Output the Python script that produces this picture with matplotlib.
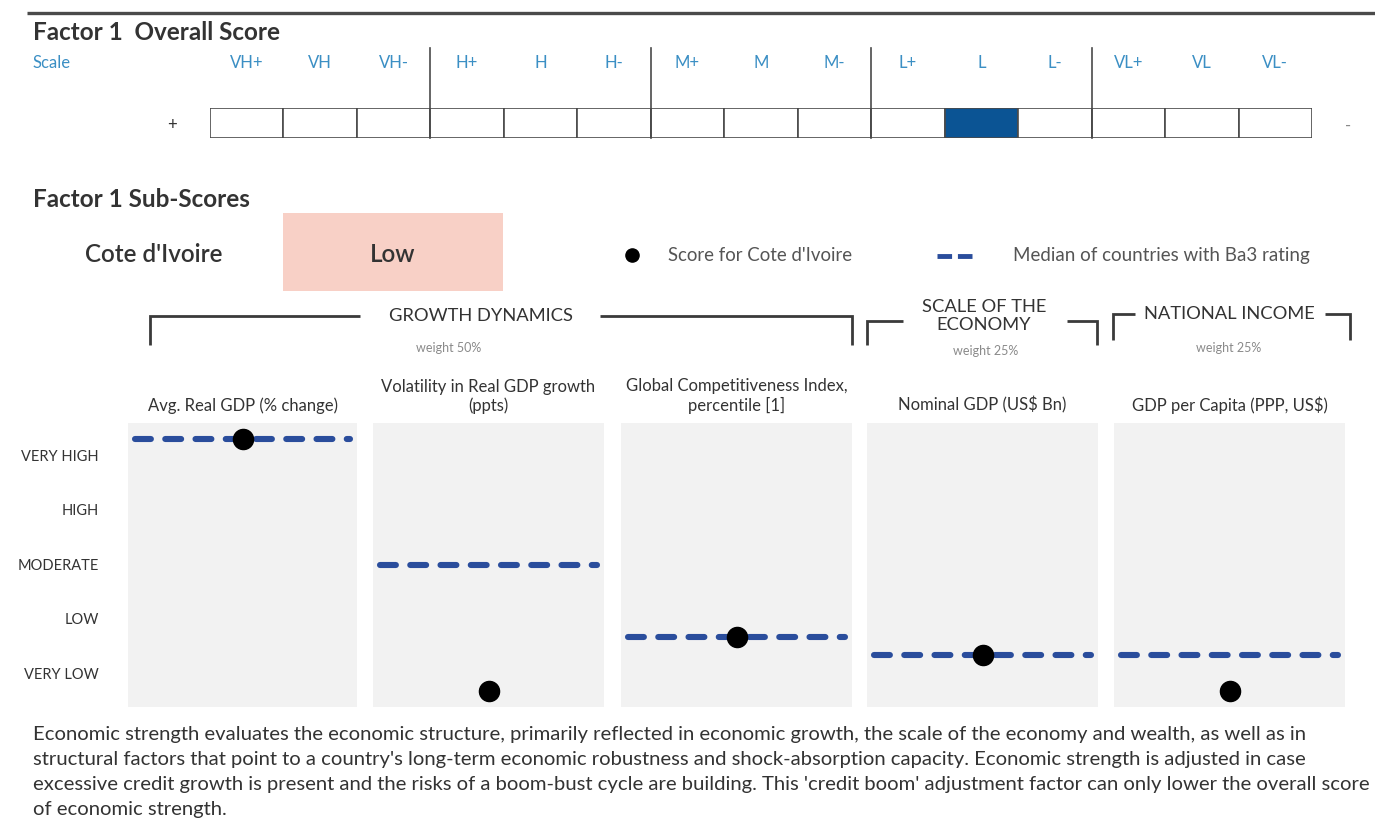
import matplotlib
matplotlib.use("Agg")
import matplotlib.pyplot as plt
from matplotlib.patches import Rectangle

plt.rcParams['font.family'] = ['Lato', 'DejaVu Sans']

# ---- data -------------------------------------------------------------
scale_labels = ["VH+", "VH", "VH-", "H+", "H", "H-", "M+", "M", "M-",
                "L+", "L", "L-", "VL+", "VL", "VL-"]
overall_score = "L"

country = "Cote d'Ivoire"
country_rating = "Low"

level_labels = ["VERY LOW", "LOW", "MODERATE", "HIGH", "VERY HIGH"]
level_values = [1, 2, 3, 4, 5]

indicators = ["Avg. Real GDP (% change)",
              "Volatility in Real GDP growth\n(ppts)",
              "Global Competitiveness Index,\npercentile [1]",
              "Nominal GDP (US\\$ Bn)",
              "GDP per Capita (PPP, US\\$)"]
country_scores = [5.30, 0.67, 1.66, 1.33, 0.67]
ba3_medians = [5.30, 2.98, 1.66, 1.33, 1.33]

groups = ["GROWTH DYNAMICS", "SCALE OF THE\nECONOMY", "NATIONAL INCOME"]
group_weights = ["weight 50%", "weight 25%", "weight 25%"]

body_lines = [
    "Economic strength evaluates the economic structure, primarily reflected in economic growth, the scale of the economy and wealth, as well as in",
    "structural factors that point to a country's long-term economic robustness and shock-absorption capacity. Economic strength is adjusted in case",
    "excessive credit growth is present and the risks of a boom-bust cycle are building. This 'credit boom' adjustment factor can only lower the overall score",
    "of economic strength.",
]

# ---- style ------------------------------------------------------------
W, H = 1375, 838
DARK = "#333333"
GREY = "#8a8a8a"
SCALE_BLUE = "#3b8fc4"
SEL_BLUE = "#0b5494"
MED_BLUE = "#2a4d9c"
PINK = "#f8d0c6"
PANEL_BG = "#f2f2f2"

fig = plt.figure(figsize=(W / 100, H / 100), dpi=100)


def px_axes(x0, y0, x1, y1):
    """Axes placed by pixel box (top-left origin)."""
    return fig.add_axes([x0 / W, 1 - y1 / H, (x1 - x0) / W, (y1 - y0) / H])


# background canvas in pixel units for headings and brackets
bg = fig.add_axes([0, 0, 1, 1])
bg.set_xlim(0, W)
bg.set_ylim(H, 0)
bg.axis("off")

bg.plot([27, W], [13, 13], color="#4a4a4a", lw=2.4, solid_capstyle="butt")
bg.text(33, 33, "Factor 1  Overall Score", fontsize=17.5, fontweight="bold",
        color=DARK, va="center", ha="left")
bg.text(33, 63, "Scale", fontsize=12, color=SCALE_BLUE, va="center")
bg.text(172, 125, "+", fontsize=12, color=DARK, va="center", ha="center")
bg.text(1348, 126, "-", fontsize=12, color=GREY, va="center", ha="center")

# ---- overall score strip ----------------------------------------------
sx = px_axes(210, 108, 1312, 138)
n = len(scale_labels)
sel = scale_labels.index(overall_score)
colors = [SEL_BLUE if i == sel else "white" for i in range(n)]
sx.bar(range(n), [1] * n, width=1, align="edge", color=colors,
       edgecolor="#4a4a4a", linewidth=1.2)
sx.set_xlim(0, n)
sx.set_ylim(0, 1)
sx.axis("off")
for i, lab in enumerate(scale_labels):
    sx.text(i + 0.5, 2.5, lab, fontsize=12, color=SCALE_BLUE,
            ha="center", va="center", clip_on=False)
for b in range(3, n, 3):
    sx.axvline(b, ymin=0, ymax=3.0, color="#4a4a4a", lw=1.2, clip_on=False)

# ---- sub-scores heading and legend --------------------------------------
bg.text(33, 199, "Factor 1 Sub-Scores", fontsize=17.5, fontweight="bold",
        color=DARK, va="center")
bg.text(85, 254, country, fontsize=17.5, color=DARK, va="center",
        fontweight="semibold")
bg.add_patch(Rectangle((283, 213), 220, 78, color=PINK, lw=0))
bg.text(393, 254, country_rating, fontsize=17.5, color=DARK, va="center",
        ha="center", fontweight="semibold")

bg.scatter([632], [255], s=90, color="black", zorder=3)
bg.text(668, 255, "Score for Cote d'Ivoire", fontsize=13.4, color="#555555",
        va="center")
bg.plot([937, 975], [256, 256], color=MED_BLUE, lw=3.5,
        dashes=(3.0, 1.2), solid_capstyle="butt")
bg.text(1013, 255, "Median of countries with Ba3 rating", fontsize=13.5,
        color="#555555", va="center")

# ---- group brackets -------------------------------------------------------
brackets = [
    # left, right, top, bottom, text gap left, text gap right, text x
    (150, 852, 316, 345, 360, 600, 481),
    (867, 1097, 321, 345, 903, 1067, 984),
    (1113, 1350, 314, 340, 1135, 1325, 1229),
]
for (l, r, t, b, gl, gr, tx), g, wgt in zip(brackets, groups, group_weights):
    kw = dict(color="#3a3a3a", lw=2.0, solid_joinstyle="miter",
              solid_capstyle="butt")
    bg.plot([l, l, gl], [b, t, t], **kw)
    bg.plot([gr, r, r], [t, t, b], **kw)
    if "\n" in g:
        bg.text(tx, 316, g, fontsize=13.2, color=DARK, ha="center",
                va="center", linespacing=1.2)
        bg.text(tx + 2, 351, wgt, fontsize=9, color=GREY, ha="center",
                va="center")
    else:
        bg.text(tx, t, g, fontsize=13.2, color=DARK, ha="center",
                va="center")
        bg.text(tx - 32 if tx < 600 else tx, 348, wgt, fontsize=9,
                color=GREY, ha="center", va="center")

# ---- indicator panels -----------------------------------------------------
panel_x = [(128, 357), (373, 604), (621, 852), (867, 1098), (1114, 1345)]
y_lo, y_hi = 0.376, 5.59
for k, ((x0, x1), title, score, med) in enumerate(
        zip(panel_x, indicators, country_scores, ba3_medians)):
    ax = px_axes(x0, 423, x1, 707)
    ax.set_facecolor(PANEL_BG)
    ax.set_xlim(0, 1)
    ax.set_ylim(y_lo, y_hi)
    for sp in ax.spines.values():
        sp.set_visible(False)
    ax.set_xticks([])
    if k == 0:
        ax.set_yticks(level_values)
        ax.set_yticklabels(level_labels, fontsize=10.5, color=DARK)
        ax.tick_params(axis="y", length=0, pad=21)
    else:
        ax.set_yticks([])
    ax.axhline(med, xmin=0.03, xmax=0.97, color=MED_BLUE, lw=4.4,
               dashes=(2.6, 2.35), dash_capstyle="round", zorder=2)
    ax.scatter([0.5], [score], s=210, color="black", zorder=3,
               clip_on=False)
    ax.set_title(title, fontsize=12, color=DARK, pad=9, linespacing=1.15)

# ---- commentary ----------------------------------------------------------
for i, line in enumerate(body_lines):
    bg.text(33, 734 + 25 * i, line, fontsize=14.6, color=DARK,
            va="center", ha="left")

fig.savefig("out.png", dpi=100, facecolor="white")
